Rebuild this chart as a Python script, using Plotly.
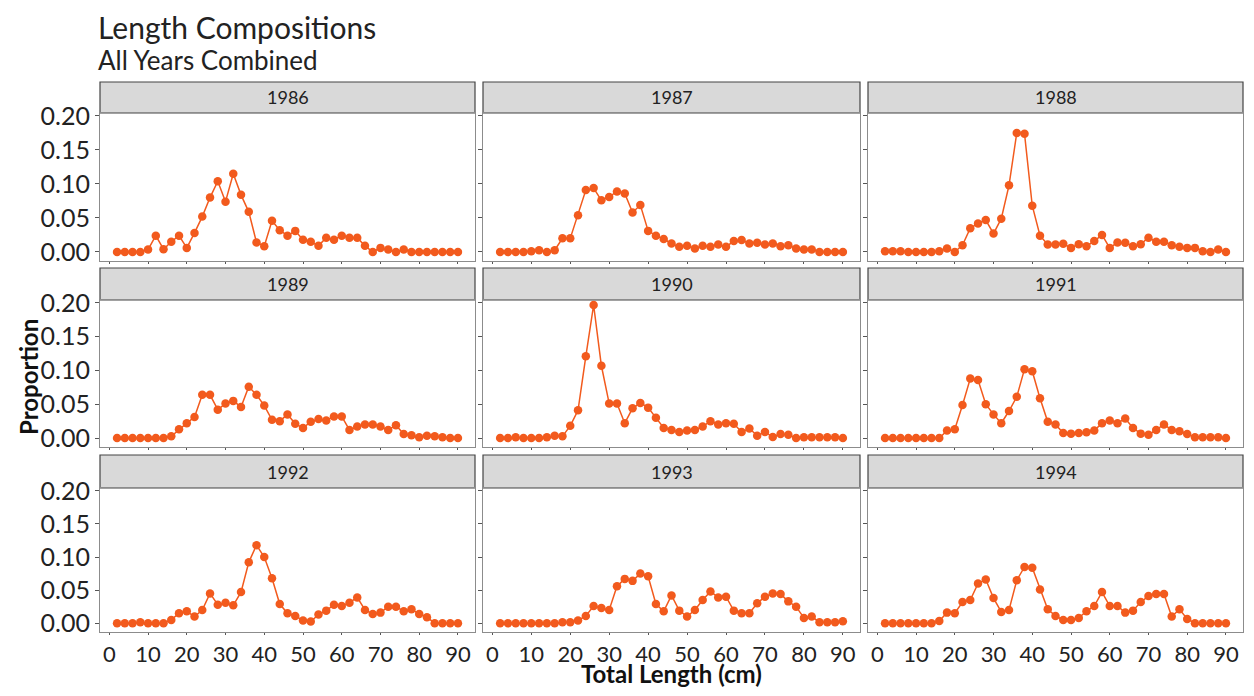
import plotly.graph_objects as go
from plotly.subplots import make_subplots

# the page puts the figure 8px in from the top-left corner
OFF = 8
W, H = 1254 - 2 * OFF, 696 - 2 * OFF

lengths = [2, 4, 6, 8, 10, 12, 14, 16, 18, 20, 22, 24, 26, 28, 30, 32, 34, 36, 38, 40, 42, 44, 46,
           48, 50, 52, 54, 56, 58, 60, 62, 64, 66, 68, 70, 72, 74, 76, 78, 80, 82, 84, 86, 88, 90]

years = ['1986', '1987', '1988', '1989', '1990', '1991', '1992', '1993', '1994']

p1986 = [0, 0, 0, 0, 0.0035, 0.024, 0.004, 0.015, 0.024, 0.006, 0.028, 0.052, 0.080, 0.104, 0.074,
         0.115, 0.084, 0.059, 0.014, 0.0085, 0.046, 0.032, 0.024, 0.031, 0.018, 0.015, 0.009, 0.021,
         0.018, 0.024, 0.021, 0.021, 0.009, 0, 0.006, 0.0035, 0, 0.0035, 0, 0, 0, 0, 0, 0, 0]
p1987 = [0, 0, 0, 0, 0.001, 0.0025, 0, 0.0025, 0.020, 0.020, 0.054, 0.091, 0.094, 0.076, 0.081,
         0.089, 0.086, 0.058, 0.069, 0.031, 0.024, 0.019, 0.0125, 0.0075, 0.009, 0.005, 0.009, 0.0075,
         0.011, 0.0075, 0.016, 0.0175, 0.0125, 0.0135, 0.011, 0.0125, 0.0085, 0.010, 0.005, 0.0035,
         0.0035, 0, 0, 0, 0]
p1988 = [0.001, 0.001, 0.001, 0, 0, 0, 0, 0.001, 0.005, 0, 0.010, 0.035, 0.042, 0.047, 0.027, 0.049,
         0.098, 0.175, 0.174, 0.068, 0.024, 0.011, 0.011, 0.012, 0.006, 0.0115, 0.0085, 0.016, 0.025,
         0.006, 0.014, 0.0135, 0.0085, 0.0115, 0.021, 0.015, 0.015, 0.010, 0.0075, 0.006, 0.006, 0.001,
         0, 0.0035, 0]
p1989 = [0, 0, 0, 0, 0, 0, 0, 0.0025, 0.013, 0.022, 0.031, 0.064, 0.064, 0.042, 0.051, 0.055, 0.046,
         0.076, 0.064, 0.048, 0.027, 0.025, 0.035, 0.021, 0.015, 0.024, 0.028, 0.026, 0.032, 0.032,
         0.012, 0.017, 0.020, 0.020, 0.017, 0.012, 0.019, 0.006, 0.004, 0.001, 0.0035, 0.0025, 0.001,
         0, 0]
p1990 = [0, 0, 0.001, 0, 0, 0, 0.001, 0.0035, 0.0025, 0.018, 0.041, 0.121, 0.197, 0.107, 0.051,
         0.051, 0.022, 0.044, 0.052, 0.045, 0.030, 0.015, 0.012, 0.009, 0.011, 0.012, 0.017, 0.025,
         0.020, 0.022, 0.021, 0.009, 0.014, 0.0035, 0.009, 0.0015, 0.006, 0.005, 0, 0.001, 0.001,
         0.001, 0.001, 0.001, 0]
p1991 = [0, 0, 0, 0, 0, 0, 0, 0, 0.011, 0.013, 0.049, 0.088, 0.086, 0.050, 0.035, 0.022, 0.040,
         0.061, 0.102, 0.099, 0.059, 0.024, 0.020, 0.0075, 0.0065, 0.0075, 0.0085, 0.011, 0.022, 0.026,
         0.022, 0.029, 0.015, 0.0065, 0.005, 0.012, 0.020, 0.012, 0.010, 0.006, 0.001, 0.001, 0.001,
         0.001, 0]
p1992 = [0, 0, 0, 0.0015, 0, 0, 0, 0.005, 0.015, 0.018, 0.010, 0.020, 0.045, 0.028, 0.031, 0.027,
         0.047, 0.092, 0.118, 0.100, 0.068, 0.029, 0.015, 0.011, 0.004, 0.0025, 0.013, 0.019, 0.028,
         0.026, 0.031, 0.039, 0.020, 0.014, 0.016, 0.025, 0.025, 0.018, 0.021, 0.014, 0.009, 0, 0, 0, 0]
p1993 = [0, 0, 0, 0, 0, 0, 0, 0, 0.0015, 0.0015, 0.004, 0.011, 0.026, 0.023, 0.020, 0.056, 0.067,
         0.064, 0.075, 0.071, 0.029, 0.018, 0.042, 0.019, 0.010, 0.020, 0.035, 0.048, 0.039, 0.040,
         0.019, 0.015, 0.015, 0.030, 0.040, 0.045, 0.044, 0.033, 0.025, 0.008, 0.010, 0.0015, 0.0015,
         0.0015, 0.003]
p1994 = [0, 0, 0, 0, 0, 0, 0, 0.0035, 0.016, 0.015, 0.032, 0.035, 0.060, 0.066, 0.038, 0.017, 0.020,
         0.065, 0.085, 0.084, 0.051, 0.021, 0.011, 0.005, 0.005, 0.008, 0.018, 0.026, 0.047, 0.026,
         0.026, 0.016, 0.019, 0.032, 0.041, 0.044, 0.044, 0.010, 0.021, 0.0065, 0, 0, 0, 0, 0]

props = [p1986, p1987, p1988, p1989, p1990, p1991, p1992, p1993, p1994]

y_ticks = [0, 0.05, 0.10, 0.15, 0.20]
y_labels = ['0.00', '0.05', '0.10', '0.15', '0.20']
x_ticks = [0, 10, 20, 30, 40, 50, 60, 70, 80, 90]

orange = '#F25A1D'
font = 'Lato, "Open Sans", sans-serif'


def fx(px):
    return (px - OFF) / W


def fy(px):
    return 1 - (px - OFF) / H


# panel geometry in window pixels (left, right) and (top, bottom)
cols_px = [(100, 475), (483, 860), (868, 1243)]
rows_px = [(113, 261), (300, 447), (488, 632)]
strips_px = [(82, 113), (268, 300), (455, 488)]

fig = make_subplots(rows=3, cols=3)

shapes = []
annotations = []
for i, (yr, vals) in enumerate(zip(years, props)):
    r, c = i // 3, i % 3
    fig.add_trace(
        go.Scatter(
            x=lengths, y=vals, mode='lines+markers',
            line=dict(color=orange, width=1.5),
            marker=dict(color=orange, size=8.5),
            showlegend=False,
            hovertemplate='%{x} cm: %{y:.3f}<extra>' + yr + '</extra>'
        ),
        row=r + 1, col=c + 1
    )
    x0, x1 = cols_px[c]
    yt, yb = rows_px[r]
    st, sb = strips_px[r]
    n = '' if i == 0 else str(i + 1)
    fig.layout['xaxis' + n].update(
        domain=[fx(x0), fx(x1)], range=[-2.4, 94.4],
        tickvals=x_ticks, showticklabels=(r == 2),
        ticks='outside', ticklen=2, tickcolor='#555', showgrid=False, zeroline=False,
        showline=True, mirror=True, linecolor='#8c8c8c', linewidth=1.2,
        tickfont=dict(size=22, color='#222', family=font), automargin=False
    )
    fig.layout['yaxis' + n].update(
        domain=[fy(yb), fy(yt)], range=[-0.0133, 0.2044],
        tickvals=y_ticks, ticktext=y_labels, showticklabels=(c == 0),
        ticks='outside', ticklen=4, tickcolor='#555', showgrid=False, zeroline=False,
        showline=True, mirror=True, linecolor='#8c8c8c', linewidth=1.2,
        tickfont=dict(size=25, color='#222', family=font), automargin=False
    )
    shapes.append(dict(
        type='rect', xref='paper', yref='paper',
        x0=fx(x0), x1=fx(x1), y0=fy(sb), y1=fy(st),
        fillcolor='#D9D9D9', line=dict(color='#444', width=1.2), layer='below'
    ))
    annotations.append(dict(
        text=yr, xref='paper', yref='paper', showarrow=False,
        x=fx((x0 + x1) / 2), y=fy((st + sb) / 2), xanchor='center', yanchor='middle',
        font=dict(size=18, color='#222', family=font)
    ))

annotations += [
    dict(text='Length Compositions', xref='paper', yref='paper', showarrow=False,
         x=fx(96), y=fy(27), xanchor='left', yanchor='middle',
         font=dict(size=30, color='#222', family=font)),
    dict(text='All Years Combined', xref='paper', yref='paper', showarrow=False,
         x=fx(96), y=fy(60), xanchor='left', yanchor='middle',
         font=dict(size=26, color='#222', family=font)),
    dict(text='<b>Proportion</b>', xref='paper', yref='paper', showarrow=False,
         x=fx(28), y=fy(377), xanchor='center', yanchor='middle', textangle=-90,
         font=dict(size=24, color='#111', family=font)),
    dict(text='<b>Total Length (cm)</b>', xref='paper', yref='paper', showarrow=False,
         x=fx(671), y=fy(673), xanchor='center', yanchor='middle',
         font=dict(size=24, color='#111', family=font)),
]

fig.update_layout(
    width=W, height=H,
    margin=dict(l=0, r=0, t=0, b=0),
    paper_bgcolor='white', plot_bgcolor='white',
    shapes=shapes, annotations=annotations,
    showlegend=False
)

fig.write_html('out.html')
